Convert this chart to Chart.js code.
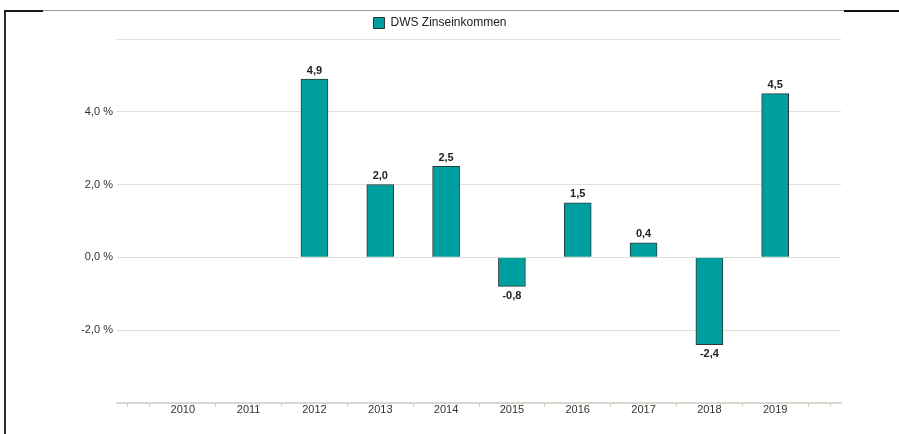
<!DOCTYPE html>
<html>
<head>
<meta charset="utf-8">
<script src="https://cdn.jsdelivr.net/npm/chart.js@4.4.1/dist/chart.umd.min.js"></script>
<style>
  html, body { margin: 0; padding: 0; background: #fff; }
  #wrap { position: relative; width: 899px; height: 434px; overflow: hidden; }
  #c { position: absolute; left: 0; top: 0; }
  .ln { position: absolute; }
</style>
</head>
<body>
<div id="wrap">
  <canvas id="c" width="899" height="434"></canvas>
  <div class="ln" style="left:4px;top:10px;width:2px;height:424px;background:#2a2a2a"></div>
  <div class="ln" style="left:4px;top:10px;width:39px;height:2px;background:#1a1a1a"></div>
  <div class="ln" style="left:43px;top:10px;width:801px;height:1px;background:#9a9a9a"></div>
  <div class="ln" style="left:844px;top:10px;width:55px;height:2px;background:#111"></div>
</div>
<script>
const years = [2010, 2011, 2012, 2013, 2014, 2015, 2016, 2017, 2018, 2019];
const values = [null, null, 4.9, 2.0, 2.5, -0.8, 1.5, 0.4, -2.4, 4.5];
const seriesName = 'DWS Zinseinkommen';
const yTickValues = [-2, 0, 2, 4];

const fmt = v => v.toFixed(1).replace('.', ',');
const isInt = v => Math.abs(v - Math.round(v)) < 1e-6;

const points = years.map((y, i) => ({ x: y, y: values[i] })).filter(p => p.y !== null);

const valueLabels = {
  id: 'valueLabels',
  afterDatasetsDraw(chart) {
    const ctx = chart.ctx;
    const meta = chart.getDatasetMeta(0);
    ctx.save();
    ctx.font = 'bold 11px "Liberation Sans", Arial, sans-serif';
    ctx.fillStyle = '#222';
    ctx.textAlign = 'center';
    meta.data.forEach((bar, i) => {
      const v = points[i].y;
      if (v >= 0) {
        ctx.textBaseline = 'bottom';
        ctx.fillText(fmt(v), bar.x, bar.y - 3);
      } else {
        ctx.textBaseline = 'top';
        ctx.fillText(fmt(v), bar.x, bar.y + 4);
      }
    });
    ctx.restore();
  }
};

new Chart(document.getElementById('c'), {
  type: 'bar',
  data: {
    datasets: [{
      label: seriesName,
      data: points,
      backgroundColor: '#009f9f',
      borderColor: '#2b3838',
      borderWidth: 1,
      barThickness: 27
    }]
  },
  options: {
    responsive: false,
    animation: false,
    layout: { padding: { left: 39, right: 58, top: 14, bottom: 20 } },
    plugins: {
      legend: {
        display: true,
        position: 'top',
        labels: {
          boxWidth: 11,
          boxHeight: 11,
          color: '#222',
          font: { family: '"Liberation Sans", Arial, sans-serif', size: 12 },
          padding: 3
        }
      },
      tooltip: { enabled: false }
    },
    scales: {
      x: {
        type: 'linear',
        offset: false,
        min: 2009,
        max: 2020,
        afterBuildTicks(scale) {
          const t = [];
          for (let i = 0; i <= 33; i++) t.push({ value: 2009 + i / 3 });
          scale.ticks = t;
        },
        ticks: {
          autoSkip: false,
          maxRotation: 0,
          padding: -3,
          color: '#333',
          font: { family: '"Liberation Sans", Arial, sans-serif', size: 11 },
          callback(v) {
            if (isInt(v)) {
              const r = Math.round(v);
              if (years.includes(r)) return String(r);
            }
            return '';
          }
        },
        grid: {
          drawOnChartArea: false,
          drawTicks: true,
          tickLength: 4,
          color(ctx) {
            const v = ctx.tick ? ctx.tick.value : 0;
            if (isInt(v) && v > 2009 && v < 2020) return 'rgba(0,0,0,0)';
            return '#d2cdc3';
          }
        },
        border: { display: true, color: '#dcd7ce', width: 2 }
      },
      y: {
        min: -4,
        max: 6,
        afterFit(scale) { scale.width = 78; },
        ticks: {
          stepSize: 2,
          padding: 4,
          color: '#333',
          font: { family: '"Liberation Sans", Arial, sans-serif', size: 11 },
          callback(v) {
            return yTickValues.includes(v) ? fmt(v) + ' %' : '';
          }
        },
        grid: {
          drawTicks: false,
          color(ctx) {
            return ctx.tick && ctx.tick.value === -4 ? 'rgba(0,0,0,0)' : '#e2ded7';
          },
          lineWidth: 1
        },
        border: { display: false }
      }
    }
  },
  plugins: [valueLabels]
});
</script>
</body>
</html>
